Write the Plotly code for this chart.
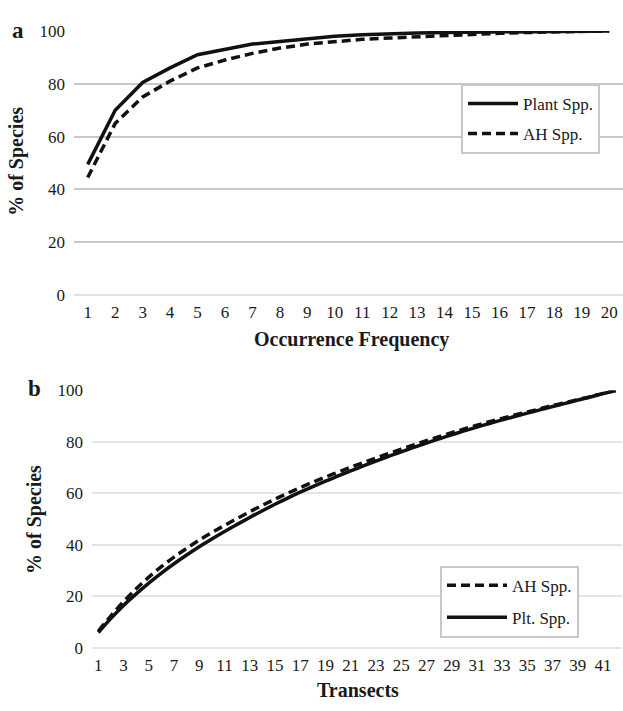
import plotly.graph_objects as go

# ---------------- data ----------------
freq = list(range(1, 21))
plant_a = [49.5, 70, 80.5, 86, 91, 93, 95, 96, 97, 98, 98.5, 99, 99.2, 99.4, 99.5, 99.6, 99.7, 99.8, 99.9, 100]
ah_a = [44.5, 65, 75, 81, 86, 89, 91.5, 93.5, 95, 96, 96.8, 97.3, 97.8, 98.3, 98.7, 99.1, 99.4, 99.6, 99.8, 100]

transects = list(range(1, 43))
ah_b = [6.5, 12.5, 18.0, 23.0, 27.5, 31.6, 35.3, 38.7, 41.9, 44.8, 47.6, 50.3, 52.9, 55.4, 57.8,
        60.1, 62.3, 64.4, 66.4, 68.3, 70.2, 72.0, 73.8, 75.5, 77.2, 78.9, 80.5, 82.1, 83.6, 85.1,
        86.5, 87.9, 89.2, 90.5, 91.7, 92.9, 94.2, 95.3, 96.5, 97.6, 98.9, 100]
plt_b = [6, 11.5, 16.5, 21, 25.2, 29.1, 32.7, 36.1, 39.3, 42.3, 45.2, 48.0, 50.7, 53.3, 55.8,
         58.2, 60.5, 62.7, 64.8, 66.8, 68.8, 70.7, 72.6, 74.4, 76.2, 77.9, 79.6, 81.2, 82.8, 84.3,
         85.8, 87.2, 88.6, 89.9, 91.2, 92.5, 93.8, 95.0, 96.3, 97.5, 98.8, 100]

ytick_vals = [0, 20, 40, 60, 80, 100]
xticks_a = freq
xticks_b = list(range(1, 42, 2))

FONT = "Liberation Serif"
TXT = "#1a1a1a"
W, H = 623, 711

fig = go.Figure()

fig.add_trace(go.Scatter(x=freq, y=plant_a, mode="lines", name="Plant Spp.",
                         line=dict(color="#111111", width=3.5),
                         xaxis="x", yaxis="y", legend="legend", legendgroup="a1"))
fig.add_trace(go.Scatter(x=freq, y=ah_a, mode="lines", name="AH Spp.",
                         line=dict(color="#111111", width=3.5, dash="9px,5px"),
                         xaxis="x", yaxis="y", legend="legend", legendgroup="a2"))

fig.add_trace(go.Scatter(x=transects, y=ah_b, mode="lines", name="AH Spp.",
                         line=dict(color="#111111", width=3.5, dash="9px,5px", shape="spline"),
                         xaxis="x2", yaxis="y2", legend="legend2", legendgroup="b1"))
fig.add_trace(go.Scatter(x=transects, y=plt_b, mode="lines", name="Plt. Spp.",
                         line=dict(color="#111111", width=3.5, shape="spline"),
                         xaxis="x2", yaxis="y2", legend="legend2", legendgroup="b2"))

def px_x(p):
    return p / W

def px_y(p):
    return 1 - p / H

axis_common = dict(showline=False, ticks="", fixedrange=True,
                   tickfont=dict(family=FONT, size=17, color=TXT))

fig.update_layout(
    width=W, height=H,
    margin=dict(l=0, r=0, t=0, b=0),
    paper_bgcolor="white", plot_bgcolor="white",
    font=dict(family=FONT, color=TXT),
    xaxis=dict(domain=[px_x(74), 1.0], anchor="y", range=[0.5, 20.5],
               tickvals=xticks_a, ticktext=[str(v) for v in xticks_a], zeroline=False,
               showgrid=False, ticklabelstandoff=5, **axis_common),
    yaxis=dict(domain=[px_y(294), px_y(22.5)], anchor="x", range=[0, 100],
               tickvals=ytick_vals, showgrid=True, gridcolor="#c8c8c8", gridwidth=2,
               zeroline=True, zerolinecolor="#e2e2e2", zerolinewidth=2,
               ticklabelstandoff=8, **axis_common),
    xaxis2=dict(domain=[px_x(92), px_x(622)], anchor="y2", range=[0.5, 42.5],
                tickvals=xticks_b, ticktext=[str(v) for v in xticks_b], zeroline=False,
                showgrid=False, ticklabelstandoff=5, **axis_common),
    yaxis2=dict(domain=[px_y(656.5), px_y(392)], anchor="x2", range=[0, 100],
                tickvals=ytick_vals, showgrid=True, gridcolor="#e4e4e4", gridwidth=2,
                zeroline=True, zerolinecolor="#e6e6e6", zerolinewidth=2,
                ticklabelstandoff=8, **axis_common),
    legend=dict(x=px_x(461), y=px_y(77), xanchor="left", yanchor="top",
                bgcolor="white", bordercolor="#c8c8c8", borderwidth=2,
                font=dict(family=FONT, size=17, color=TXT), tracegroupgap=5,
                itemwidth=50),
    legend2=dict(x=px_x(440), y=px_y(572), xanchor="left", yanchor="top",
                 bgcolor="white", bordercolor="#c8c8c8", borderwidth=2,
                 font=dict(family=FONT, size=17, color=TXT), tracegroupgap=7,
                 itemwidth=60),
    showlegend=True,
)

ann = [
    dict(text="<b>a</b>", x=px_x(18), y=px_y(22), size=23),
    dict(text="<b>b</b>", x=px_x(34), y=px_y(390), size=23),
    dict(text="<b>Occurrence Frequency</b>", x=px_x(351), y=px_y(340), size=20),
    dict(text="<b>Transects</b>", x=px_x(358), y=px_y(700), size=20),
]
for a in ann:
    fig.add_annotation(text=a["text"], x=a["x"], y=a["y"], xref="paper", yref="paper",
                       showarrow=False, xanchor="center", yanchor="middle",
                       font=dict(family=FONT, size=a["size"], color=TXT))
for xx, yy in [(17, 157), (35, 525)]:
    fig.add_annotation(text="<b>% of Species</b>", x=px_x(xx), y=px_y(yy), xref="paper",
                       yref="paper", showarrow=False, textangle=-90, xanchor="center",
                       yanchor="middle", font=dict(family=FONT, size=20, color=TXT))

fig.write_html("out.html")
